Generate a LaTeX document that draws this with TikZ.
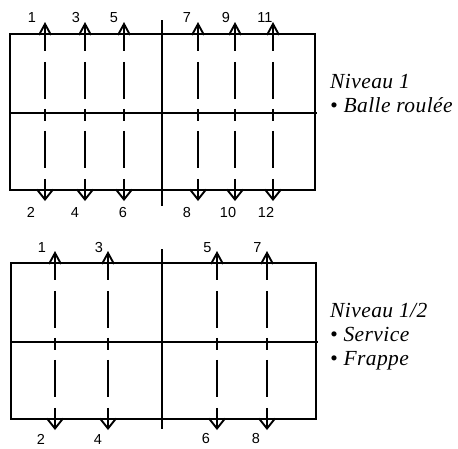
\documentclass[tikz,border=0pt]{standalone}
\usepackage{fontspec}
\setmainfont{Liberation Serif}
\newfontfamily\numfont{Liberation Sans}
\newfontfamily\capfont[LetterSpace=2]{Liberation Serif}
\usetikzlibrary{arrows.meta}
\tikzset{
  court/.style={line width=1.9pt, line join=miter},
  run/.style={line width=1.9pt,
    dash pattern=on 26pt off 11pt on 37pt off 10pt on 12pt off 10pt on 37pt off 11pt on 26pt off 20pt,
    {Straight Barb[length=11pt,width=12pt,line width=1.9pt]}-{Straight Barb[length=10pt,width=16pt,line width=1.9pt]}},
  num/.style={font=\numfont\fontsize{14.5}{15}\selectfont, anchor=base, inner sep=0pt},
  caption/.style={font=\capfont\itshape\fontsize{21.5}{24}\selectfont, anchor=base west, inner sep=0pt},
}
\begin{document}
\begin{tikzpicture}[x=1pt, y=-1pt]
\useasboundingbox (0,0) rectangle (458,448);

% ---- court for level 1 ----
\draw[court] (10,34) rectangle (315,190);
\draw[court] (10,113) -- (317,113);
\draw[court] (162,20) -- (162,206);
\foreach \x [count=\i] in {45,85,124,198,235,273} {
  \coordinate (a\i) at (\x,22);
  \coordinate (b\i) at (\x,201);
  \draw[run] (a\i) -- (b\i);
}
\foreach \t/\x in {1/32,3/76,5/114,7/187,9/226,11/265}
  \node[num] (u\t) at (\x,22) {\t};
\foreach \t/\x in {2/31,4/75,6/123,8/187,10/228,12/266}
  \node[num] (d\t) at (\x,217) {\t};
\node[caption] (lvA) at (330,88) {Niveau 1};
\node[caption] (lvAa) at (330,112) {• Balle roulée};

% ---- court for level 1/2 ----
\draw[court] (11,263) rectangle (316,419);
\draw[court] (11,342) -- (318,342);
\draw[court] (162,249) -- (162,429);
\foreach \x [count=\i] in {55,108,217,267} {
  \coordinate (c\i) at (\x,251);
  \coordinate (e\i) at (\x,430);
  \draw[run] (c\i) -- (e\i);
}
\foreach \t/\x in {1/42,3/99,5/207.5,7/257.5}
  \node[num] (v\t) at (\x,252) {\t};
\foreach \t/\x/\y in {2/41/444.5,4/98/444.5,6/206/443,8/256/443}
  \node[num] (w\t) at (\x,\y) {\t};
\node[caption] (lvB) at (330,317) {Niveau 1/2};
\node[caption] (lvBa) at (330,341) {• Service};
\node[caption] (lvBb) at (330,365) {• Frappe};
\end{tikzpicture}
\end{document}
